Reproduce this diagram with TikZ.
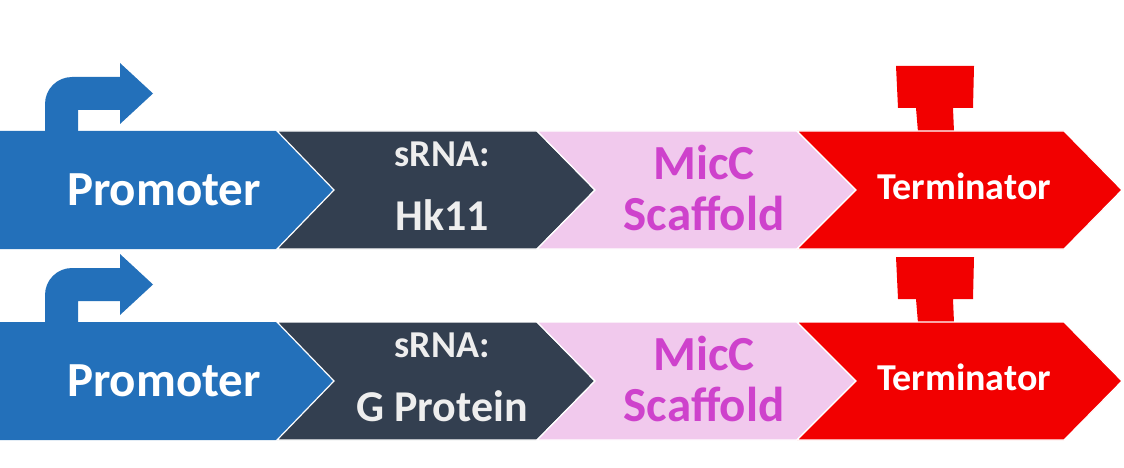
\documentclass[tikz,border=0pt]{standalone}
\usepackage{fontspec}
\setmainfont{Carlito}
\definecolor{promblue}{RGB}{35,112,186}
\definecolor{darkslate}{RGB}{51,63,80}
\definecolor{pinkfill}{RGB}{241,201,237}
\definecolor{magtext}{RGB}{206,66,204}
\definecolor{termred}{RGB}{242,0,0}
\definecolor{lightgray}{RGB}{238,238,238}
\begin{document}
\begin{tikzpicture}[x=1pt,y=-1pt,
  part/.style={draw=white,line width=1.2pt,line join=miter},
  lbl/.style={anchor=base,inner sep=0pt,font=\bfseries},
  big/.style={lbl,font=\fontsize{49}{55}\selectfont\bfseries},
  mid/.style={lbl,font=\fontsize{44}{50}\selectfont\bfseries},
  small/.style={lbl,font=\fontsize{38}{44}\selectfont\bfseries}]
\useasboundingbox (0,0) rectangle (1124,468);
\foreach \r/\dy/\gene in {1/0/Hk11,2/191/G Protein}{
\begin{scope}[yshift=-\dy pt]
  % promoter bent arrow
  \fill[promblue] (45,131) -- (45,104) arc[start angle=180,end angle=270,radius=27] -- (120,77) -- (120,63) -- (153,93.5) -- (120,124) -- (120,110) -- (78,110) -- (78,131) -- cycle;
  % terminator T
  \fill[termred] (896,66) -- (974,66) -- (973,108) -- (953,108) -- (954,132) -- (918,132) -- (916,108) -- (898,108) -- cycle;
  % parts
  \fill[promblue] (0,131) -- (277,131) -- (334,190) -- (277,249) -- (0,249) -- cycle;
  \filldraw[part,fill=darkslate] (277,131) -- (537,131) -- (595,190) -- (537,249) -- (277,249) -- (334,190) -- cycle;
  \filldraw[part,fill=pinkfill] (537,131) -- (797,131) -- (856,190) -- (797,249) -- (537,249) -- (595,190) -- cycle;
  \filldraw[part,fill=termred] (797,131) -- (1064,131) -- (1122,190) -- (1064,249) -- (797,249) -- (856,190) -- cycle;
  % labels
  \node[big,text=white] (prom\r) at (164,205) {Promoter};
  \node[small,text=lightgray] (srna\r) at (442,166) {sRNA:};
  \node[mid,text=lightgray] (gene\r) at (442,230) {\gene};
  \node[big,text=magtext] (micc\r) at (704,179) {MicC};
  \node[big,text=magtext] (scaf\r) at (704,230) {Scaffold};
  \node[small,text=white] (term\r) at (964,199) {Terminator};
\end{scope}}
\end{tikzpicture}
\end{document}
